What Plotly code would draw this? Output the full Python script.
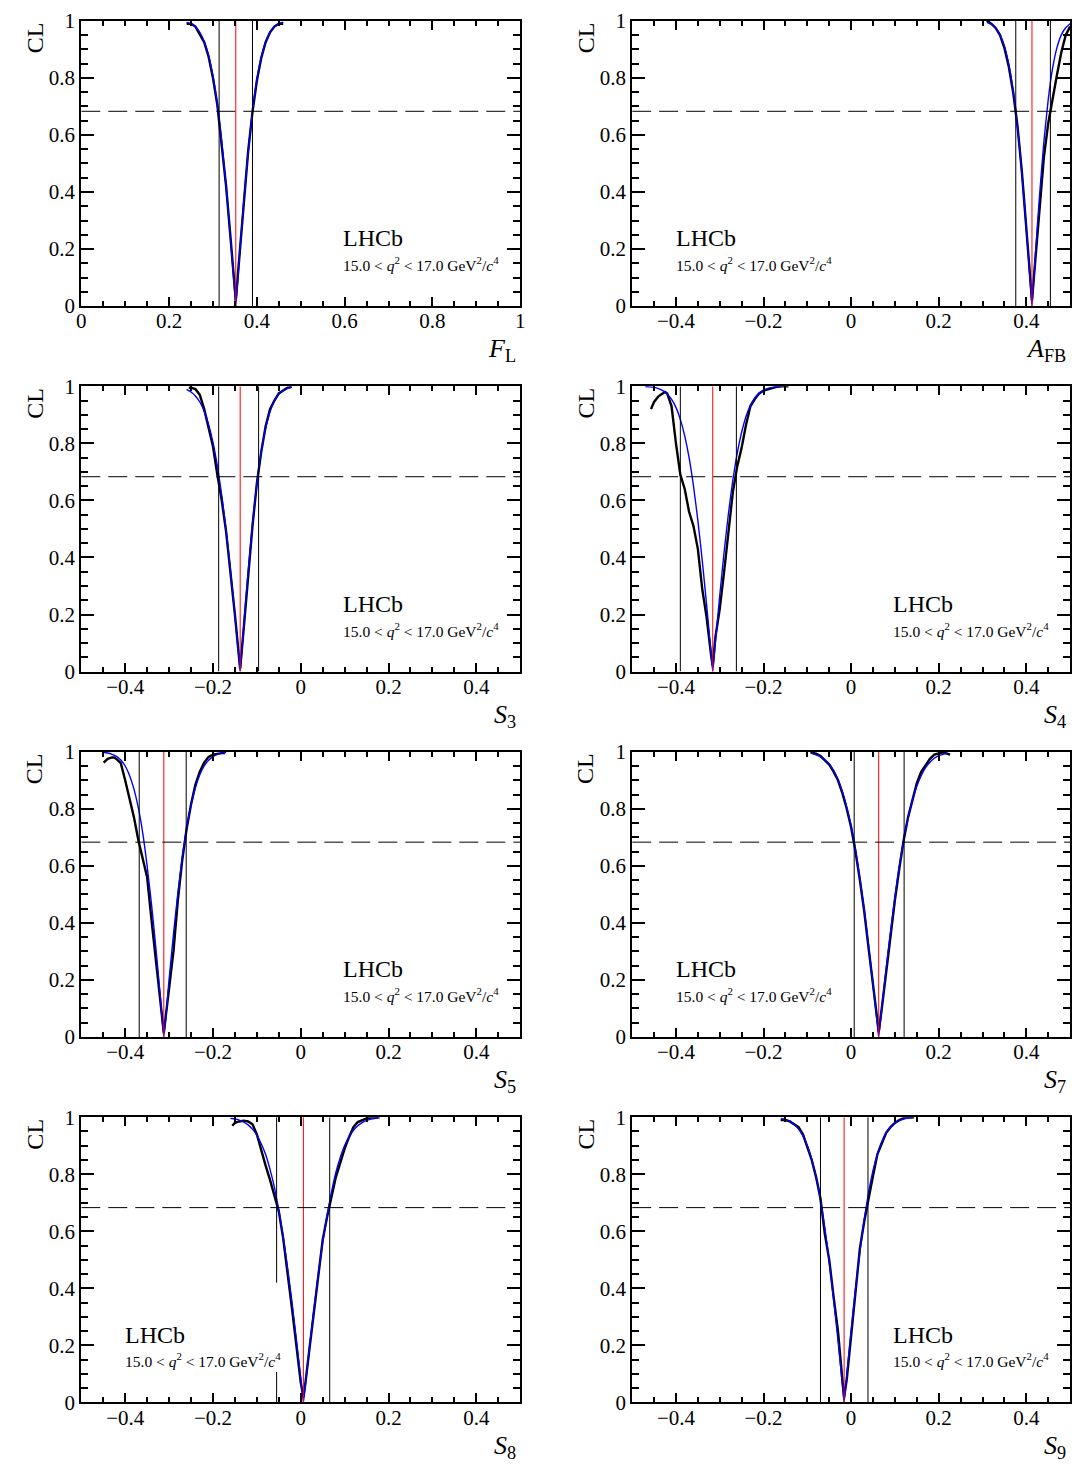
import plotly.graph_objects as go

# ---------------- data ----------------
titles = ["<i>F</i><sub>L</sub>", "<i>A</i><sub>FB</sub>", "<i>S</i><sub>3</sub>", "<i>S</i><sub>4</sub>",
          "<i>S</i><sub>5</sub>", "<i>S</i><sub>7</sub>", "<i>S</i><sub>8</sub>", "<i>S</i><sub>9</sub>"]
x_ranges = [[0, 1], [-0.5, 0.5], [-0.5, 0.5], [-0.5, 0.5], [-0.5, 0.5], [-0.5, 0.5], [-0.5, 0.5], [-0.5, 0.5]]

interval_lo = [0.314, 0.376, -0.187, -0.390, -0.368, 0.007, -0.055, -0.070]
central     = [0.352, 0.413, -0.138, -0.316, -0.312, 0.063, 0.006, -0.016]
interval_hi = [0.390, 0.455, -0.096, -0.262, -0.261, 0.121, 0.066, 0.0385]
cl_level = 0.683
s8_lo_line_break = [0.107, 0.42]

# blue smooth curves
blue_x_1 = [0.24, 0.25, 0.26, 0.27, 0.28, 0.29, 0.30, 0.31, 0.32, 0.33, 0.34, 0.35, 0.352, 0.36, 0.37, 0.38, 0.39, 0.40, 0.41, 0.42, 0.43, 0.44, 0.45, 0.46]
blue_y_1 = [0.995, 0.989, 0.979, 0.960, 0.928, 0.879, 0.806, 0.706, 0.576, 0.418, 0.236, 0.040, 0.0, 0.166, 0.364, 0.539, 0.683, 0.793, 0.873, 0.926, 0.960, 0.979, 0.990, 0.995]
blue_x_2 = [0.31, 0.32, 0.33, 0.34, 0.35, 0.36, 0.37, 0.38, 0.39, 0.40, 0.41, 0.413, 0.42, 0.43, 0.44, 0.45, 0.46, 0.47, 0.48, 0.49, 0.50]
blue_y_2 = [0.995, 0.988, 0.975, 0.951, 0.911, 0.847, 0.754, 0.627, 0.465, 0.274, 0.064, 0.0, 0.163, 0.383, 0.573, 0.723, 0.833, 0.906, 0.951, 0.976, 0.990]
blue_x_3 = [-0.26, -0.25, -0.24, -0.23, -0.22, -0.21, -0.20, -0.19, -0.18, -0.17, -0.16, -0.15, -0.14, -0.138, -0.13, -0.12, -0.11, -0.10, -0.09, -0.08, -0.07, -0.06, -0.05, -0.04, -0.03, -0.02]
blue_y_3 = [0.989, 0.980, 0.966, 0.945, 0.913, 0.866, 0.803, 0.721, 0.618, 0.495, 0.353, 0.197, 0.033, 0.0, 0.159, 0.347, 0.516, 0.658, 0.770, 0.853, 0.911, 0.949, 0.972, 0.986, 0.993, 0.997]
blue_x_4 = [-0.47, -0.46, -0.45, -0.44, -0.43, -0.42, -0.41, -0.40, -0.39, -0.38, -0.37, -0.36, -0.35, -0.34, -0.33, -0.32, -0.316,
            -0.31, -0.30, -0.29, -0.28, -0.27, -0.26, -0.25, -0.24, -0.23, -0.22, -0.21, -0.20, -0.19, -0.18, -0.17, -0.16]
blue_y_4 = [0.999, 0.998, 0.996, 0.992, 0.985, 0.973, 0.954, 0.926, 0.884, 0.826, 0.750, 0.651, 0.530, 0.390, 0.234, 0.068, 0.0,
            0.102, 0.266, 0.420, 0.556, 0.672, 0.766, 0.839, 0.894, 0.933, 0.959, 0.976, 0.986, 0.993, 0.996, 0.998, 0.999]
blue_x_5 = [-0.45, -0.44, -0.43, -0.42, -0.41, -0.40, -0.39, -0.38, -0.37, -0.36, -0.35, -0.34, -0.33, -0.32, -0.312,
            -0.30, -0.29, -0.28, -0.27, -0.26, -0.25, -0.24, -0.23, -0.22, -0.21, -0.20, -0.19, -0.18, -0.17]
blue_y_5 = [0.998, 0.9955, 0.991, 0.984, 0.971, 0.950, 0.917, 0.869, 0.803, 0.715, 0.600, 0.465, 0.311, 0.143, 0.0,
            0.201, 0.360, 0.504, 0.629, 0.731, 0.813, 0.874, 0.919, 0.950, 0.970, 0.983, 0.991, 0.995, 0.997]
blue_x_6 = [-0.09, -0.08, -0.07, -0.06, -0.05, -0.04, -0.03, -0.02, -0.01, 0.0, 0.01, 0.02, 0.03, 0.04, 0.05, 0.06, 0.063,
            0.07, 0.08, 0.09, 0.10, 0.11, 0.12, 0.13, 0.14, 0.15, 0.16, 0.17, 0.18, 0.19, 0.20, 0.21, 0.22]
blue_y_6 = [0.994, 0.989, 0.982, 0.972, 0.957, 0.934, 0.903, 0.861, 0.806, 0.739, 0.656, 0.557, 0.444, 0.318, 0.183, 0.043, 0.0,
            0.0995, 0.239, 0.370, 0.491, 0.599, 0.691, 0.768, 0.831, 0.879, 0.916, 0.944, 0.963, 0.977, 0.986, 0.991, 0.995]
blue_x_7 = [-0.16, -0.15, -0.14, -0.13, -0.12, -0.11, -0.10, -0.09, -0.08, -0.07, -0.06, -0.05, -0.04, -0.03, -0.02, -0.01, 0.0, 0.006,
            0.01, 0.02, 0.03, 0.04, 0.05, 0.06, 0.07, 0.08, 0.09, 0.10, 0.11, 0.12, 0.13, 0.14, 0.15, 0.16, 0.17, 0.18]
blue_y_7 = [0.9964, 0.9939, 0.9895, 0.983, 0.973, 0.958, 0.937, 0.907, 0.869, 0.817, 0.754, 0.673, 0.580, 0.472, 0.352, 0.221, 0.084, 0.0,
            0.056, 0.194, 0.326, 0.449, 0.560, 0.656, 0.737, 0.806, 0.859, 0.901, 0.931, 0.954, 0.970, 0.981, 0.9886, 0.993, 0.996, 0.998]
blue_x_8 = [-0.16, -0.15, -0.14, -0.13, -0.12, -0.11, -0.10, -0.09, -0.08, -0.07, -0.06, -0.05, -0.04, -0.03, -0.02, -0.016,
            -0.01, 0.0, 0.01, 0.02, 0.03, 0.04, 0.05, 0.06, 0.07, 0.08, 0.09, 0.10, 0.11, 0.12, 0.13, 0.14]
blue_y_8 = [0.9952, 0.9915, 0.985, 0.9746, 0.9586, 0.934, 0.901, 0.853, 0.791, 0.711, 0.612, 0.495, 0.362, 0.217, 0.063, 0.0,
            0.096, 0.251, 0.397, 0.528, 0.642, 0.737, 0.813, 0.871, 0.915, 0.945, 0.966, 0.980, 0.988, 0.9935, 0.9965, 0.998]

# black CL scans
black_x_1 = [0.24, 0.25, 0.26, 0.27, 0.28, 0.29, 0.30, 0.31, 0.32, 0.33, 0.34, 0.35, 0.352, 0.36, 0.37, 0.38, 0.39, 0.40, 0.41, 0.42, 0.43, 0.44, 0.45, 0.46]
black_y_1 = [0.99, 0.99, 0.98, 0.955, 0.925, 0.875, 0.80, 0.705, 0.57, 0.42, 0.24, 0.05, 0.02, 0.17, 0.36, 0.54, 0.68, 0.79, 0.87, 0.925, 0.96, 0.98, 0.99, 0.99]
black_x_2 = [0.31, 0.32, 0.33, 0.34, 0.35, 0.36, 0.37, 0.38, 0.39, 0.40, 0.41, 0.413, 0.42, 0.43, 0.44, 0.45, 0.46, 0.47, 0.48, 0.49, 0.50]
black_y_2 = [1.0, 0.99, 0.975, 0.95, 0.905, 0.84, 0.75, 0.63, 0.47, 0.28, 0.07, 0.02, 0.15, 0.35, 0.52, 0.64, 0.73, 0.81, 0.89, 0.95, 0.98]
black_x_3 = [-0.255, -0.25, -0.24, -0.23, -0.22, -0.21, -0.20, -0.19, -0.18, -0.17, -0.16, -0.15, -0.14, -0.138, -0.13, -0.12, -0.11, -0.10, -0.09, -0.08, -0.07, -0.06, -0.05, -0.04, -0.03, -0.021]
black_y_3 = [0.995, 0.995, 0.99, 0.97, 0.92, 0.86, 0.79, 0.69, 0.60, 0.49, 0.35, 0.20, 0.04, 0.01, 0.15, 0.34, 0.51, 0.66, 0.77, 0.86, 0.92, 0.95, 0.975, 0.985, 0.995, 0.998]
black_x_4 = [-0.457, -0.45, -0.44, -0.43, -0.425, -0.42, -0.41, -0.40, -0.39, -0.38, -0.37, -0.36, -0.35, -0.34, -0.33, -0.32, -0.316,
             -0.31, -0.30, -0.29, -0.28, -0.27, -0.26, -0.25, -0.24, -0.23, -0.22, -0.21, -0.20, -0.19, -0.18, -0.17, -0.16, -0.143]
black_y_4 = [0.92, 0.945, 0.965, 0.975, 0.98, 0.975, 0.93, 0.80, 0.69, 0.64, 0.56, 0.51, 0.43, 0.29, 0.19, 0.06, 0.02,
             0.12, 0.22, 0.35, 0.50, 0.63, 0.72, 0.785, 0.865, 0.93, 0.955, 0.975, 0.985, 0.99, 0.995, 0.998, 1.0, 1.0]
black_x_5 = [-0.449, -0.44, -0.43, -0.425, -0.42, -0.41, -0.40, -0.39, -0.38, -0.37, -0.36, -0.35, -0.34, -0.33, -0.32, -0.312,
             -0.30, -0.29, -0.28, -0.27, -0.26, -0.25, -0.24, -0.23, -0.22, -0.21, -0.20, -0.19, -0.18, -0.173]
black_y_5 = [0.962, 0.975, 0.98, 0.98, 0.975, 0.96, 0.90, 0.835, 0.77, 0.69, 0.63, 0.56, 0.41, 0.26, 0.12, 0.015,
             0.17, 0.30, 0.48, 0.62, 0.73, 0.815, 0.885, 0.93, 0.962, 0.982, 0.99, 0.993, 0.995, 0.995]
black_x_6 = [-0.093, -0.08, -0.07, -0.06, -0.05, -0.04, -0.03, -0.02, -0.01, 0.0, 0.01, 0.02, 0.03, 0.04, 0.05, 0.06, 0.063,
             0.07, 0.08, 0.09, 0.10, 0.11, 0.12, 0.13, 0.14, 0.15, 0.16, 0.17, 0.18, 0.19, 0.20, 0.21, 0.226]
black_y_6 = [0.998, 0.993, 0.985, 0.97, 0.955, 0.93, 0.90, 0.855, 0.80, 0.735, 0.65, 0.55, 0.44, 0.31, 0.18, 0.05, 0.02,
             0.10, 0.23, 0.36, 0.48, 0.59, 0.69, 0.77, 0.83, 0.89, 0.93, 0.955, 0.975, 0.99, 0.995, 0.998, 0.99]
black_x_7 = [-0.156, -0.15, -0.14, -0.13, -0.12, -0.11, -0.10, -0.09, -0.08, -0.07, -0.06, -0.05, -0.04, -0.03, -0.02, -0.01, 0.0, 0.006,
             0.01, 0.02, 0.03, 0.04, 0.05, 0.06, 0.07, 0.08, 0.09, 0.10, 0.11, 0.12, 0.13, 0.14, 0.15, 0.16, 0.17, 0.177]
black_y_7 = [0.97, 0.98, 0.985, 0.988, 0.985, 0.975, 0.94, 0.88, 0.83, 0.78, 0.72, 0.67, 0.575, 0.46, 0.33, 0.20, 0.07, 0.02,
             0.06, 0.19, 0.32, 0.46, 0.57, 0.65, 0.72, 0.79, 0.84, 0.89, 0.93, 0.965, 0.983, 0.99, 0.996, 0.999, 1.0, 1.0]
black_x_8 = [-0.161, -0.15, -0.14, -0.13, -0.12, -0.11, -0.10, -0.09, -0.08, -0.07, -0.06, -0.05, -0.04, -0.03, -0.02, -0.016,
             -0.01, 0.0, 0.01, 0.02, 0.03, 0.04, 0.05, 0.06, 0.07, 0.08, 0.09, 0.10, 0.11, 0.12, 0.13, 0.144]
black_y_8 = [0.99, 0.99, 0.985, 0.975, 0.965, 0.94, 0.895, 0.85, 0.79, 0.715, 0.59, 0.50, 0.37, 0.25, 0.08, 0.02,
             0.08, 0.24, 0.39, 0.54, 0.635, 0.72, 0.795, 0.87, 0.91, 0.945, 0.965, 0.98, 0.99, 0.997, 1.0, 1.0]

blue_x = [blue_x_1, blue_x_2, blue_x_3, blue_x_4, blue_x_5, blue_x_6, blue_x_7, blue_x_8]
blue_y = [blue_y_1, blue_y_2, blue_y_3, blue_y_4, blue_y_5, blue_y_6, blue_y_7, blue_y_8]
black_x = [black_x_1, black_x_2, black_x_3, black_x_4, black_x_5, black_x_6, black_x_7, black_x_8]
black_y = [black_y_1, black_y_2, black_y_3, black_y_4, black_y_5, black_y_6, black_y_7, black_y_8]

label_main = "LHCb"
label_sub = "15.0 &lt; <i>q</i><sup>2</sup> &lt; 17.0 GeV<sup>2</sup>/<i>c</i><sup>4</sup>"
label_on_left = [False, True, False, False, False, True, True, False]

# ---------------- layout ----------------
W, H = 1084, 1472
FONT = "Liberation Serif, Times New Roman, serif"
col_px = [(77, 520), (633, 1075)]
row_top = [9, 380.5, 752, 1123.5]
row_h = 290

fig = go.Figure()
layout = dict(width=W, height=H, margin=dict(l=0, r=0, t=0, b=0),
              paper_bgcolor="white", plot_bgcolor="white", showlegend=False,
              font=dict(family=FONT, color="black"))
annotations = []

for i in range(8):
    r, c = divmod(i, 2)
    L, R = col_px[c]
    top = row_top[r]
    xd = [L / W, R / W]
    yd = [1 - (top + row_h) / H, 1 - top / H]
    sfx = "" if i == 0 else str(i + 1)
    xa, ya = "x" + sfx, "y" + sfx
    layout["xaxis" + sfx] = dict(
        domain=xd, anchor=ya, range=x_ranges[i], showline=True, linewidth=2, linecolor="black",
        mirror="ticks", ticks="inside", ticklen=9, tickwidth=1.5, tickcolor="black",
        tick0=0, dtick=0.2, showgrid=False, zeroline=False, ticklabelstandoff=-5,
        tickfont=dict(family=FONT, size=21, color="black"),
        minor=dict(dtick=0.05, tick0=0, ticks="inside", ticklen=5, tickwidth=1.5, tickcolor="black", showgrid=False))
    layout["yaxis" + sfx] = dict(
        domain=yd, anchor=xa, range=[0, 1], showline=True, linewidth=2, linecolor="black",
        mirror="ticks", ticks="inside", ticklen=13, tickwidth=1.5, tickcolor="black",
        tick0=0, dtick=0.2, showgrid=False, zeroline=False,
        tickfont=dict(family=FONT, size=21, color="black"),
        minor=dict(dtick=0.05, tick0=0, ticks="inside", ticklen=7, tickwidth=1.5, tickcolor="black", showgrid=False))

    # black CL scan
    fig.add_trace(go.Scatter(x=black_x[i], y=black_y[i], mode="lines", xaxis=xa, yaxis=ya,
                             line=dict(color="black", width=2.4), hoverinfo="skip"))
    # blue smooth curve
    fig.add_trace(go.Scatter(x=blue_x[i], y=blue_y[i], mode="lines", xaxis=xa, yaxis=ya,
                             line=dict(color="#0000ff", width=1.4, shape="spline", smoothing=0.5), hoverinfo="skip"))
    # interval lines
    if i == 6:
        lo_y = [0, s8_lo_line_break[0], None, s8_lo_line_break[1], 1]
        lo_x = [interval_lo[i]] * 2 + [None] + [interval_lo[i]] * 2
    else:
        lo_y = [0, 1]
        lo_x = [interval_lo[i]] * 2
    fig.add_trace(go.Scatter(x=lo_x, y=lo_y, mode="lines", xaxis=xa, yaxis=ya,
                             line=dict(color="black", width=1), hoverinfo="skip", connectgaps=False))
    fig.add_trace(go.Scatter(x=[interval_hi[i]] * 2, y=[0, 1], mode="lines", xaxis=xa, yaxis=ya,
                             line=dict(color="black", width=1), hoverinfo="skip"))
    fig.add_trace(go.Scatter(x=[central[i]] * 2, y=[0, 1], mode="lines", xaxis=xa, yaxis=ya,
                             line=dict(color="#ff0000", width=1), hoverinfo="skip"))
    # 68.3% CL dashed line
    fig.add_trace(go.Scatter(x=x_ranges[i], y=[cl_level, cl_level], mode="lines", xaxis=xa, yaxis=ya,
                             line=dict(color="black", width=1, dash="19px,8px"), hoverinfo="skip"))

    # CL y title
    annotations.append(dict(text="CL", textangle=-90, xref="paper", yref="paper",
                            x=(L - 47) / W, y=1 - (top + 17) / H, xanchor="center", yanchor="middle",
                            showarrow=False, font=dict(family=FONT, size=24, color="black")))
    # x title
    annotations.append(dict(text=titles[i], xref="paper", yref="paper",
                            x=(R - 2) / W, y=1 - (top + row_h + 45) / H, xanchor="right", yanchor="middle",
                            showarrow=False, font=dict(family=FONT, size=26, color="black")))
    # LHCb label
    lx = 0.097 if label_on_left[i] else 0.593
    annotations.append(dict(text=label_main, xref=xa + " domain", yref=ya + " domain",
                            x=lx, y=0.188, xanchor="left", yanchor="bottom", showarrow=False, borderpad=0,
                            font=dict(family=FONT, size=24, color="black")))
    annotations.append(dict(text=label_sub, xref=xa + " domain", yref=ya + " domain",
                            x=lx, y=0.186, xanchor="left", yanchor="top", showarrow=False, borderpad=0,
                            font=dict(family=FONT, size=15.5, color="black")))

layout["annotations"] = annotations
fig.update_layout(**layout)
fig.write_html("out.html")
